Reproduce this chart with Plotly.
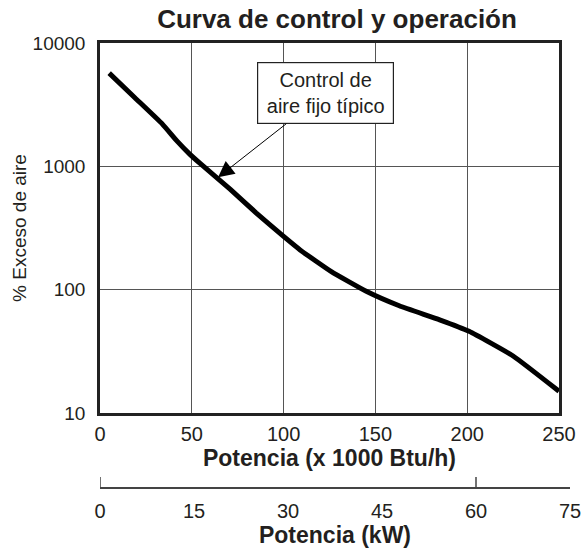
import math
import plotly.graph_objects as go

# Data
potencia_btu = [5, 19, 34, 42, 49, 55, 71, 85, 100, 109, 126, 145, 163, 185, 201, 225, 250]
exceso_aire = [5700, 3600, 2200, 1600, 1250, 1040, 650, 420, 270, 210, 140, 97, 74, 57, 46, 29, 15]

x_ticks = [0, 50, 100, 150, 200, 250]
y_ticks = [10, 100, 1000, 10000]
y_tick_labels = ["10", "100", "1000", "10000"]
kw_ticks = [0, 15, 30, 45, 60, 75]
kw_marks = [0, 60]

# annotation arrow target (data units)
arrow_x, arrow_y = 64.3, 815

FONT = "Liberation Sans, Arial, sans-serif"
TXT = "#231f20"

W, H = 584, 554
ml, mr, mt, mb = 100, 14, 43, 10
paper_w = W - ml - mr
paper_h = H - mt - mb
plot_right = 559
plot_bottom = 413
kw_line_y = 487

x_dom_end = (plot_right - ml) / paper_w
y_dom_start = (H - mb - plot_bottom) / paper_h
kw_pos = (H - mb - kw_line_y) / paper_h
tick_top = (H - mb - (kw_line_y - 10)) / paper_h

fig = go.Figure()
fig.add_trace(go.Scatter(
    x=potencia_btu, y=exceso_aire, mode="lines",
    line=dict(color="black", width=5, shape="spline", smoothing=0.4),
    hoverinfo="skip", showlegend=False,
))

for k in kw_marks:
    fig.add_shape(type="line", xref="x2", yref="paper", x0=k, x1=k,
                  y0=kw_pos, y1=tick_top, line=dict(color="#444", width=1.5))

fig.add_annotation(
    x=arrow_x, y=math.log10(arrow_y), xref="x", yref="y", ax=107, ay=-84,
    text="Control de<br>aire fijo típico", showarrow=True,
    arrowhead=2, arrowsize=3.2, arrowwidth=1, arrowcolor="black",
    font=dict(family=FONT, size=20, color=TXT),
    bgcolor="white", bordercolor="#222", borderwidth=1.2, borderpad=1,
    width=133, height=58,
)

fig.update_layout(
    width=W, height=H,
    margin=dict(l=ml, r=mr, t=mt, b=mb),
    paper_bgcolor="white", plot_bgcolor="white",
    title=dict(text="<b>Curva de control y operación</b>", x=337 / W, xref="container",
               xanchor="center", y=1 - 19 / H, yref="container", yanchor="middle",
               font=dict(family=FONT, size=26, color=TXT)),
    font=dict(family=FONT, color=TXT),
    xaxis=dict(
        domain=[0, x_dom_end], range=[0, 250], tickvals=x_ticks,
        showgrid=True, gridcolor="#555", gridwidth=1,
        showline=True, linecolor="#222", linewidth=2.5, mirror=True,
        ticks="outside", ticklen=1, tickcolor="rgba(0,0,0,0)",
        tickfont=dict(size=20, color=TXT),
        title=dict(text="<b>Potencia (x 1000 Btu/h)</b>", font=dict(size=23, color=TXT), standoff=7),
        zeroline=False, anchor="y", automargin=False,
    ),
    yaxis=dict(
        domain=[y_dom_start, 1], type="log", range=[1, 4],
        tickvals=y_ticks, ticktext=y_tick_labels,
        showgrid=True, gridcolor="#555", gridwidth=1,
        showline=True, linecolor="#222", linewidth=2.5, mirror=True,
        ticks="outside", ticklen=8, tickcolor="rgba(0,0,0,0)",
        tickfont=dict(size=19, color=TXT),
        title=dict(text="% Exceso de aire", font=dict(size=19, color=TXT), standoff=1),
        zeroline=False, automargin=False, anchor="x",
    ),
    xaxis2=dict(
        domain=[0, 1], range=[0, 75], tickvals=kw_ticks,
        anchor="y2", side="bottom",
        showline=True, linecolor="#444", linewidth=1.5,
        showgrid=False, zeroline=False,
        ticks="outside", ticklen=5, tickcolor="rgba(0,0,0,0)",
        tickfont=dict(size=20, color=TXT),
        title=dict(text="<b>Potencia (kW)</b>", font=dict(size=23, color=TXT), standoff=6),
        automargin=False,
    ),
    yaxis2=dict(
        domain=[kw_pos, kw_pos + 0.004], anchor="x2", visible=False,
        showgrid=False, zeroline=False, range=[0, 1],
    ),
)

fig.write_html("out.html", config={"displayModeBar": False},
               post_script="document.body.style.margin='0';document.body.style.overflow='hidden';")
